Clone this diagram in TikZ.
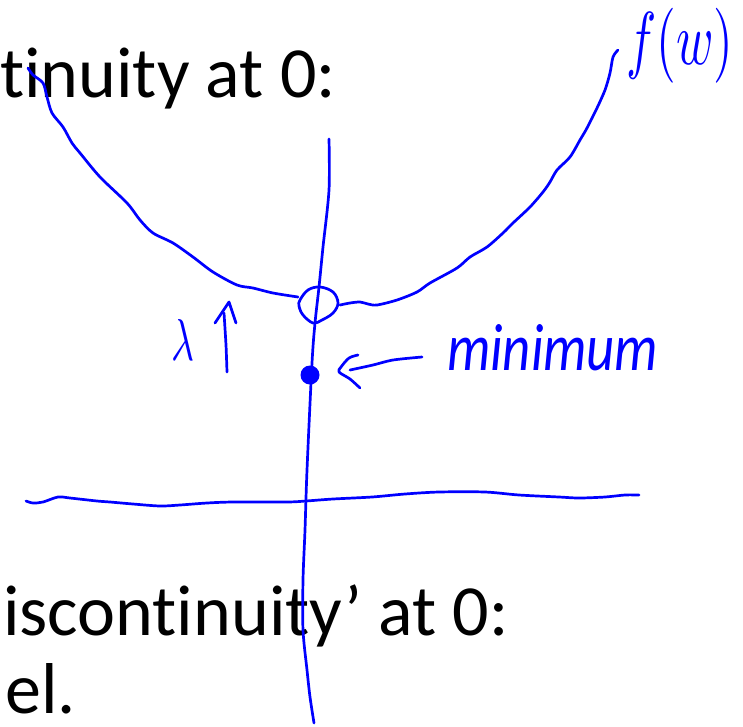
\documentclass[tikz,border=0pt]{standalone}
\usepackage{fontspec}
\setmainfont{Carlito}[Ligatures={NoCommon,NoContextual},RawFeature={-liga;-clig;-dlig}]
\usepackage{graphicx}
\begin{document}
\begin{tikzpicture}[x=1pt,y=-1pt,
  ink/.style={draw=blue,line width=2.7pt,line cap=round,line join=round},
  slidetext/.style={inner sep=0pt,anchor=base west,font=\fontsize{72}{86}\selectfont},
  hand/.style={inner sep=0pt,text=blue}]
\useasboundingbox (0,0) rectangle (743,726);
% slide text
\node[slidetext] (t1) at (0,97) {tinuity at 0:};
\node[slidetext] (t2) at (3,635) {iscontinuity’ at 0:};
\node[slidetext] (t3) at (5,713) {el.};
% f(w) curve
\draw[ink] plot[smooth,tension=0.5] coordinates {(28,68) (33,75) (43,83) (47,97) (52,113) (63,127) (72,143) (80,153) (100,177) (127,203) (140,220) (153,233) (173,243) (193,257) (213,272) (237,285) (253,288) (273,293) (298,297)};
\draw[ink] plot[smooth,tension=0.5] coordinates {(340,305) (350,303) (360,302) (368,304) (377,305) (397,300) (417,292) (430,283) (457,268) (470,257) (487,247) (503,233) (513,223) (530,207) (543,192) (550,182) (557,170) (570,157) (580,140) (587,128) (597,108) (605,90) (610,73) (613,57) (618,50)};
% open circle at 0
\draw[ink] plot[smooth cycle,tension=0.6] coordinates {(300,300) (308,290) (320,287) (333,292) (338,303) (333,313) (322,320) (313,323) (303,315) (299,306)};
% axes
\draw[ink] plot[smooth,tension=0.5] coordinates {(329,139) (329,190) (323,247) (319,287) (315,323) (312,363) (307,470) (305,530) (303,580) (303,630) (307,670) (310,697) (314,723)};
\draw[ink] plot[smooth,tension=0.5] coordinates {(26,501) (33,503) (43,502) (58,497) (70,498) (97,501) (110,502) (133,504) (160,506) (180,505) (207,503) (233,502) (287,502) (306,501) (333,499) (372,497) (405,494) (439,492) (485,492) (519,495) (559,497) (579,498) (605,497) (625,495) (639,495)};
% minimum dot
\coordinate (dot) at (310,375);
\fill[blue] (dot) circle (9.5);
% arrow to minimum
\node[hand,anchor=base west] (minlbl) at (447,370) {\resizebox{211pt}{46pt}{\itshape minimum}};
\coordinate (tipm) at (339,371);
\draw[ink] plot[smooth,tension=0.5] coordinates {(358,355) (349,358) (341,367) (339,372) (350,379) (360,388)};
\draw[ink] plot[smooth,tension=0.5] coordinates {(350,370) (373,365) (393,360) (422,357)};
% lambda up arrow
\node[hand,anchor=south west] (lam) at (171,361) {\resizebox{23pt}{41pt}{$\lambda$}};
\coordinate (up) at (229,302);
\draw[ink] plot[smooth,tension=0.4] coordinates {(227,372) (226,345) (224,313)};
\draw[ink] (215,323) -- (up) -- (236,323);
% f(w) label
\node[hand,anchor=north west] (fw) at (626,8) {\resizebox*{107pt}{75pt}{$f(w)$}};
\end{tikzpicture}
\end{document}
